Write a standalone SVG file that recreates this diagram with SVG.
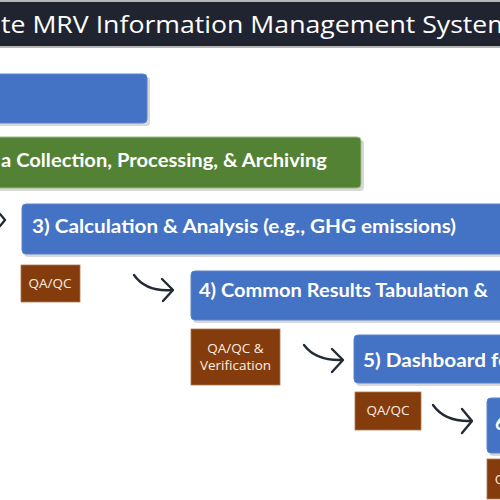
<svg xmlns="http://www.w3.org/2000/svg" width="500" height="500" viewBox="0 0 500 500">
<defs>
<style>
.title{font-family:"Open Sans","Liberation Sans",sans-serif;font-size:24px;fill:#ffffff}
.bt{font-family:Lato,"Liberation Sans",sans-serif;font-weight:bold;font-size:19.5px;fill:#ffffff}
.qt{font-family:"Open Sans","Liberation Sans",sans-serif;font-size:13.5px;fill:#fbeee6;text-anchor:middle}
.blue{fill:#4472c4;stroke:#5b83cc;stroke-width:1}
.green{fill:#548235;stroke:#9dba82;stroke-width:1}
.brown{fill:#843c0c;stroke:#b07850;stroke-width:0.8}
.sh{fill:#b8b8b8;opacity:0.55}
.arr{fill:none;stroke:#222a35;stroke-width:2.4;stroke-linecap:round;stroke-linejoin:round}
</style>
</defs>
<rect x="0" y="0" width="500" height="500" fill="#ffffff"/>
<g id="title">
<rect x="0" y="0" width="500" height="48" fill="#b5b5b5"/>
<rect x="0" y="2" width="500" height="44" fill="#1f2430"/>
<text class="title" x="1" y="33" textLength="511" lengthAdjust="spacingAndGlyphs">te MRV Information Management System</text>
</g>
<g id="connectors">
<path class="arr" d="M0,214 L5,220 L0,226"/>
<path class="arr" d="M134,275 Q146,292 172,290"/>
<path class="arr" d="M162,279 L173,290 L163,301"/>
<path class="arr" d="M304,345 Q316,361 342,360"/>
<path class="arr" d="M332,349 L343,360 L332,372"/>
<path class="arr" d="M433,405 Q445,422 471,421"/>
<path class="arr" d="M462,409 L472,421 L462,433"/>
</g>
<g id="step1">
<rect class="sh" x="-5" y="77" width="155" height="49" rx="4"/>
<rect class="blue" x="-5" y="74" width="152" height="49" rx="4"/>
</g>
<g id="step2">
<rect class="sh" x="-5" y="140" width="369" height="51" rx="4"/>
<rect class="green" x="-5" y="137" width="366" height="51" rx="4"/>
<text class="bt" x="1" y="167" textLength="326" lengthAdjust="spacingAndGlyphs">a Collection, Processing, &amp; Archiving</text>
</g>
<g id="step3">
<rect class="sh" x="24" y="207" width="490" height="50" rx="4"/>
<rect class="blue" x="22" y="204" width="490" height="50" rx="4"/>
<text class="bt" x="32" y="233" textLength="424" lengthAdjust="spacingAndGlyphs">3) Calculation &amp; Analysis (e.g., GHG emissions)</text>
</g>
<g id="qa1">
<rect class="brown" x="21" y="265" width="59" height="37"/>
<text class="qt" x="50" y="288">QA/QC</text>
</g>
<g id="step4">
<rect class="sh" x="193" y="274" width="320" height="49" rx="4"/>
<rect class="blue" x="191" y="271" width="320" height="49" rx="4"/>
<text class="bt" x="199" y="297" textLength="289" lengthAdjust="spacingAndGlyphs">4) Common Results Tabulation &amp;</text>
</g>
<g id="qa2">
<rect class="brown" x="191" y="329" width="89" height="56"/>
<text class="qt" x="235.5" y="353">QA/QC &amp;</text>
<text class="qt" x="235.5" y="370">Verification</text>
</g>
<g id="step5">
<rect class="sh" x="356" y="338" width="160" height="48" rx="4"/>
<rect class="blue" x="354" y="335" width="160" height="48" rx="4"/>
<text class="bt" x="363" y="367" textLength="147" lengthAdjust="spacingAndGlyphs">5) Dashboard fo</text>
</g>
<g id="qa3">
<rect class="brown" x="355" y="392" width="66" height="38"/>
<text class="qt" x="388" y="415">QA/QC</text>
</g>
<g id="step6">
<rect class="sh" x="489" y="401" width="30" height="55" rx="4"/>
<rect class="blue" x="487" y="398" width="30" height="55" rx="4"/>
<text class="bt" x="495" y="430">6</text>
</g>
<g id="qa4">
<rect class="brown" x="487" y="459" width="30" height="40"/>
<text class="qt" x="500" y="484">Q</text>
</g>
</svg>
